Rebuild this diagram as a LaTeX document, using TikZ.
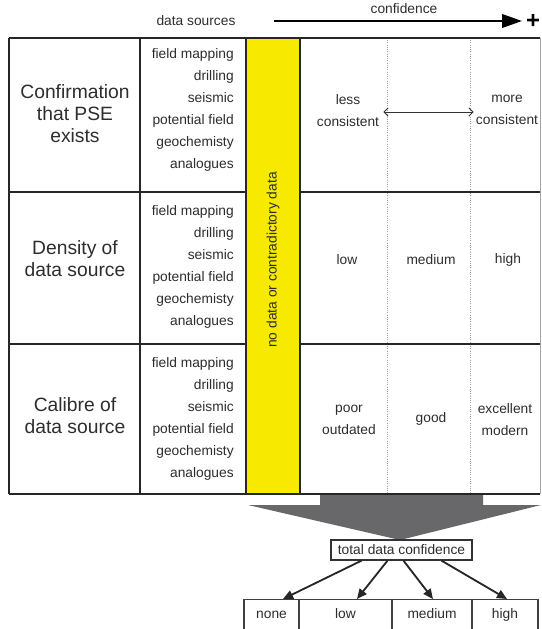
\documentclass[tikz,border=0pt]{standalone}
\usepackage{fontspec}
\setmainfont{Liberation Sans}
\usetikzlibrary{arrows.meta, calc}
\definecolor{nodatayellow}{RGB}{247,234,0}
\definecolor{funnelgray}{RGB}{104,104,106}
\definecolor{inkgray}{RGB}{45,45,45}
\tikzset{
  rowhead/.style={font=\fontsize{13.7}{15.6}\selectfont, align=center,
    text=inkgray, inner sep=0pt},
  srclist/.style={font=\fontsize{9.8}{15.6}\selectfont, align=right,
    anchor=east, text=inkgray, inner sep=0pt},
  level/.style={font=\fontsize{9.8}{15.6}\selectfont, align=center,
    text=inkgray, inner sep=0pt},
  grid/.style={line width=2pt, draw=black!85},
  divider/.style={densely dotted, draw=gray!75, line width=0.6pt},
  outcome/.style={draw=black!75, line width=0.8pt, inner sep=0pt,
    font=\fontsize{9.8}{11}\selectfont, text=inkgray,
    text height=0.475cm, text depth=0.525cm},
  pick/.style={-{Stealth[length=0.25cm, width=0.22cm, inset=0pt]},
    line width=1.3pt, draw=black!85}
}

\begin{document}
\begin{tikzpicture}[x=0.025cm, y=-0.025cm]
\clip (0,0) rectangle (541,629);

%% ── Header ─────────────────────────────────────────────
\node[level] (srchead) at (196,21) {data sources};
\node[level] (confhead) at (404,9) {confidence};
\coordinate (cstart) at (274,21);
\coordinate (cend)   at (522,21);
\draw[line width=1.5pt, -{Triangle[length=0.5cm, width=0.34cm]}] (cstart) -- (cend);
\node[font=\fontsize{17}{17}\bfseries, inner sep=0pt] (plus) at (533,21) {+};

%% ── Table ──────────────────────────────────────────────
\draw[divider] (387,38) -- (387,494);
\draw[divider] (470,38) -- (470,494);
\draw[gray!70, line width=0.6pt] (540,38) -- (540,494);
\draw[grid] (9,38) -- (540,38);
\draw[grid] (9,192) -- (540,192);
\draw[grid] (9,344) -- (540,344);
\draw[grid] (9,494) -- (540,494);
\draw[grid] (9,38) -- (9,494);
\draw[grid] (140,38) -- (140,494);
\draw[grid, fill=nodatayellow] (246,38) rectangle (300,494);

\node[level, rotate=90] (nodata) at (273,260) {no data or contradictory data};

% row headers
\node[rowhead] (pse)     at (75,114) {Confirmation\\that PSE\\exists};
\node[rowhead] (density) at (75,259) {Density of\\data source};
\node[rowhead] (calibre) at (75,416) {Calibre of\\data source};

% data source lists
\foreach \y/\nm in {110/srcone, 267/srctwo, 419/srcthree}
  \node[srclist] (\nm) at (234,\y) {field mapping\\drilling\\seismic\\potential field\\geochemisty\\analogues};

% confidence levels
\node[level] (less) at (348,111) {less\\consistent};
\node[level] (more) at (507,110) {more\\consistent};
\draw[{Straight Barb[length=3pt]}-{Straight Barb[length=3pt]}, line width=0.7pt, draw=black!80]
  (less.east) ++(4,1) coordinate (lessend) (more.west) ++(-2,2) coordinate (moreend)
  (lessend) -- (moreend);

\node[level] (low)    at (347,260) {low};
\node[level] (medium) at (431,260) {medium};
\node[level] (high)   at (508,260) {high};

\node[level] (poor)      at (349,420) {poor\\outdated};
\node[level] (good)      at (431,419) {good};
\node[level] (excellent) at (505,420) {excellent\\modern};

%% ── Funnel ─────────────────────────────────────────────
\fill[funnelgray] (320,495) -- (483,495) -- (483,505) -- (541,505)
  -- (400,540) -- (248,505) -- (320,505) -- cycle;

\node[draw=black!80, line width=0.9pt, minimum width=3.525cm, minimum height=0.5cm,
  inner sep=0pt, font=\fontsize{9.8}{11}\selectfont, text=inkgray] (total) at (401.5,550)
  {total data confidence};

%% ── Outcomes ───────────────────────────────────────────
\node[outcome, anchor=north, minimum width=1.375cm] (none)   at (271.5,599) {none};
\node[outcome, anchor=north, minimum width=2.325cm] (olow)   at (345.5,599) {low};
\node[outcome, anchor=north, minimum width=2.0cm]   (omed)   at (432,599)   {medium};
\node[outcome, anchor=north, minimum width=1.65cm]  (ohigh)  at (505,599)   {high};

\draw[pick] ($(total.south)+(-40,0)$) -- ($(none.north)+(11.5,0)$);
\draw[pick] ($(total.south)+(-14,0)$) -- ($(olow.north)+(11.5,0)$);
\draw[pick] ($(total.south)+(2,0)$)   -- ($(omed.north)+(1,0)$);
\draw[pick] ($(total.south)+(40,0)$)  -- ($(ohigh.north)+(2,0)$);

\end{tikzpicture}
\end{document}
